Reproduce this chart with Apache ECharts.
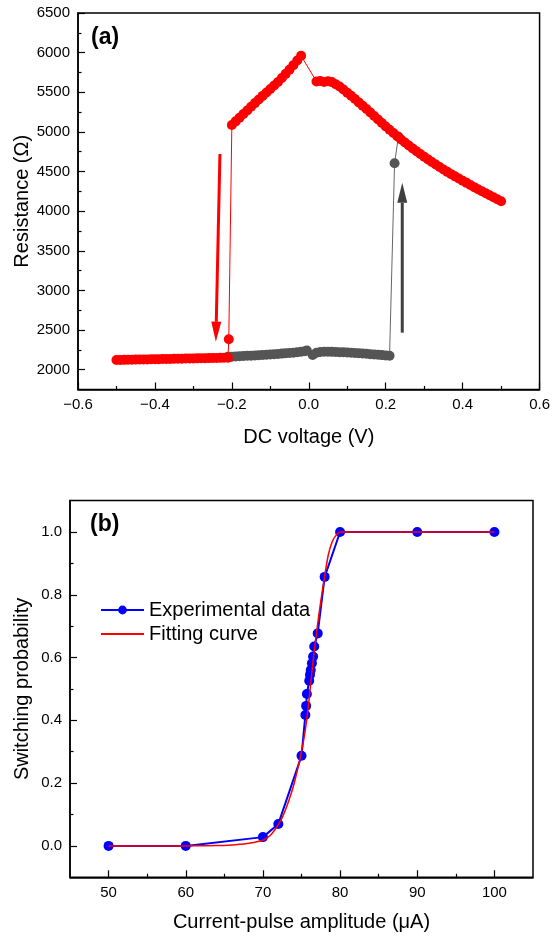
<!DOCTYPE html>
<html><head><meta charset="utf-8">
<script src="https://cdn.jsdelivr.net/npm/echarts@6/dist/echarts.min.js"></script>
<style>html,body{margin:0;padding:0;background:#fff}#c{width:553px;height:939px}</style>
</head><body><div id="c"></div>
<script>
// ---------- Panel (a): resistance vs DC voltage ----------
const redV = [0.50,0.49,0.48,0.47,0.46,0.45,0.44,0.43,0.42,0.41,0.40,0.39,0.38,0.37,0.36,0.35,0.34,0.33,0.32,0.31,
  0.30,0.29,0.28,0.27,0.26,0.25,0.24,0.23,0.22,0.21,0.20,0.19,0.18,0.17,0.16,0.15,0.14,0.13,0.12,0.11,
  0.10,0.09,0.08,0.07,0.06,0.05,0.04,0.03,0.02,
  -0.02,-0.03,-0.04,-0.05,-0.06,-0.07,-0.08,-0.09,-0.10,-0.11,-0.12,-0.13,-0.14,-0.15,-0.16,-0.17,-0.18,-0.19,-0.20,
  -0.208,
  -0.21,-0.22,-0.23,-0.24,-0.25,-0.26,-0.27,-0.28,-0.29,-0.30,-0.31,-0.32,-0.33,-0.34,-0.35,-0.36,-0.37,-0.38,-0.39,-0.40,
  -0.41,-0.42,-0.43,-0.44,-0.45,-0.46,-0.47,-0.48,-0.49,-0.50];
const redR = [4125,4150,4175,4200,4225,4251,4277,4303,4330,4357,4384,4411,4439,4467,4496,4526,4556,4588,4620,4653,
  4686,4720,4756,4792,4829,4866,4905,4945,4986,5027,5069,5112,5156,5200,5244,5288,5330,5372,5414,5455,
  5495,5535,5572,5602,5628,5638,5630,5642,5636,
  5960,5900,5842,5786,5732,5680,5630,5586,5542,5498,5454,5409,5363,5317,5271,5225,5179,5133,5087,
  2383,
  2151,2150,2149,2148,2147,2146,2145,2144,2143,2142,2141,2140,2139,2138,2137,2136,2135,2134,2133,2132,
  2131,2130,2129,2128,2127,2126,2125,2124,2123,2122];
const grayV = [-0.21,-0.20,-0.19,-0.18,-0.17,-0.16,-0.15,-0.14,-0.13,-0.12,-0.11,-0.10,-0.09,-0.08,-0.07,-0.06,-0.05,-0.04,-0.03,-0.02,-0.01,-0.005,
  0.01,0.02,0.03,0.04,0.05,0.06,0.07,0.08,0.09,0.10,0.11,0.12,0.13,0.14,0.15,0.16,0.17,0.18,0.19,0.20,0.21,
  0.223,0.233];
const grayR = [2162,2164,2167,2169,2172,2175,2177,2180,2183,2186,2189,2192,2196,2199,2203,2207,2211,2215,2220,2226,2234,2242,
  2186,2214,2224,2226,2226,2225,2223,2221,2219,2216,2213,2210,2207,2204,2200,2196,2192,2188,2184,2180,2175,
  4604,4940];
const arrowRed = [-0.231, 4721, -0.2416, 2353];
const arrowGray = [0.243, 2467, 0.243, 4359];
const aYTicks = [2000,2500,3000,3500,4000,4500,5000,5500,6000,6500];
const aYMinor = [2250,2750,3250,3750,4250,4750,5250,5750,6250];

// ---------- Panel (b): switching probability ----------
const expI = [50,60,70,72,75,75.5,75.6,75.7,76.0,76.1,76.2,76.35,76.5,76.65,77.1,78,80,90,100];
const expP = [0,0,0.028,0.07,0.287,0.417,0.446,0.484,0.526,0.545,0.56,0.582,0.603,0.635,0.677,0.857,1.0,1.0,1.0];
const fitI = [50,55,60,62,64,66,67,68,69,70,70.5,71,71.5,72,72.5,73,73.5,74,74.5,75,75.5,76,76.5,77,77.5,78,78.5,79,79.5,80,85,90,100];
const fitP = [0,0,0,0.0005,0.001,0.003,0.005,0.008,0.012,0.018,0.025,0.035,0.05,0.068,0.09,0.12,0.155,0.195,0.245,0.30,0.37,0.47,0.59,0.69,0.78,0.86,0.93,0.97,0.99,1.0,1.0,1.0,1.0];
const bXTicks = [50,60,70,80,90,100];
const bXMinor = [55,65,75,85,95];
const bYTicks = [0,0.2,0.4,0.6,0.8,1.0];
const bYMinor = [0.1,0.3,0.5,0.7,0.9];

const FF = '"Liberation Sans", Arial, Helvetica, sans-serif';
const BLACK = '#000';
const minus = v => String(v).replace('-', '\u2212');

function mainAxis(gi, min, max, opts) {
  return Object.assign({
    type: 'value', gridIndex: gi, min: min, max: max,
    axisLine: { show: true, onZero: false, lineStyle: { color: BLACK, width: 1.5 } },
    axisTick: { show: true, inside: true, length: 7, lineStyle: { color: BLACK, width: 1.2 } },
    axisLabel: { color: BLACK, fontSize: 15, fontFamily: FF, margin: 8 },
    splitLine: { show: false },
    nameLocation: 'middle',
    nameMoveOverlap: false,
    nameTextStyle: { color: BLACK, fontSize: 20, fontFamily: FF }
  }, opts);
}
function minorAxis(gi, min, max, vals, pos) {
  return {
    type: 'value', gridIndex: gi, min: min, max: max, position: pos,
    axisLine: { show: false, onZero: false },
    axisTick: { show: true, inside: true, length: 3.5, customValues: vals, lineStyle: { color: BLACK, width: 1.2 } },
    axisLabel: { show: false },
    splitLine: { show: false }
  };
}
function arrowSeries(data, color) {
  return {
    type: 'custom', xAxisIndex: 0, yAxisIndex: 0, data: [data], z: 5,
    encode: { x: [0, 2], y: [1, 3] },
    renderItem: function (params, api) {
      const a = api.coord([api.value(0), api.value(1)]);
      const b = api.coord([api.value(2), api.value(3)]);
      const dx = b[0] - a[0], dy = b[1] - a[1];
      const L = Math.hypot(dx, dy), ux = dx / L, uy = dy / L;
      const hl = 20, hw = 5;
      const bx = b[0] - ux * hl, by = b[1] - uy * hl;
      return { type: 'group', children: [
        { type: 'line', shape: { x1: a[0], y1: a[1], x2: bx, y2: by }, style: { stroke: color, lineWidth: 3 } },
        { type: 'polygon', shape: { points: [[b[0], b[1]], [bx - uy * hw, by + ux * hw], [bx + uy * hw, by - ux * hw]] }, style: { fill: color } }
      ]};
    }
  };
}

const chart = echarts.init(document.getElementById('c'), null, { renderer: 'canvas' });
chart.setOption({
  animation: false,
  backgroundColor: '#fff',
  title: [
    { text: '(a)', left: 91, top: 26, padding: 0, textStyle: { fontSize: 23, fontWeight: 'bold', fontFamily: FF, color: BLACK } },
    { text: '(b)', left: 90, top: 513, padding: 0, textStyle: { fontSize: 23, fontWeight: 'bold', fontFamily: FF, color: BLACK } }
  ],
  grid: [
    { left: 78, right: 13, top: 13, height: 376.5, show: true, borderColor: BLACK, borderWidth: 1.5, backgroundColor: 'transparent' },
    { left: 70, right: 20, top: 500.6, height: 376.7, show: true, borderColor: BLACK, borderWidth: 1.5, backgroundColor: 'transparent' }
  ],
  legend: {
    data: ['Experimental data', 'Fitting curve'],
    orient: 'vertical', left: 100, top: 600, padding: 0, itemWidth: 43, itemHeight: 11, itemGap: 4,
    textStyle: { fontSize: 20, fontFamily: FF, color: BLACK }
  },
  xAxis: [
    mainAxis(0, -0.6, 0.6, {
      interval: 0.2, name: 'DC voltage (V)', nameGap: 38,
      minorTick: { show: true, splitNumber: 2, length: 3.5, lineStyle: { color: BLACK, width: 1.2 } },
      axisLabel: { color: BLACK, fontSize: 15, fontFamily: FF, margin: 8, formatter: v => minus(v.toFixed(1)) }
    }),
    mainAxis(1, 45, 105, {
      name: 'Current-pulse amplitude (\u03bcA)', nameGap: 35,
      axisTick: { show: true, inside: true, length: 7, customValues: bXTicks, lineStyle: { color: BLACK, width: 1.2 } },
      axisLabel: { color: BLACK, fontSize: 15, fontFamily: FF, margin: 8, customValues: bXTicks, formatter: v => String(v) }
    }),
    minorAxis(1, 45, 105, bXMinor, 'bottom')
  ],
  yAxis: [
    mainAxis(0, 1750, 6500, {
      name: 'Resistance (\u03a9)', nameGap: 46,
      axisTick: { show: true, inside: true, length: 7, customValues: aYTicks, lineStyle: { color: BLACK, width: 1.2 } },
      axisLabel: { color: BLACK, fontSize: 15, fontFamily: FF, margin: 8, customValues: aYTicks, formatter: v => String(v) }
    }),
    minorAxis(0, 1750, 6500, aYMinor, 'left'),
    mainAxis(1, -0.1, 1.1, {
      name: 'Switching probability', nameGap: 38,
      axisTick: { show: true, inside: true, length: 7, customValues: bYTicks, lineStyle: { color: BLACK, width: 1.2 } },
      axisLabel: { color: BLACK, fontSize: 15, fontFamily: FF, margin: 8, customValues: bYTicks, formatter: v => v.toFixed(1) }
    }),
    minorAxis(1, -0.1, 1.1, bYMinor, 'left')
  ],
  series: [
    {
      name: 'LRS', type: 'line', xAxisIndex: 0, yAxisIndex: 0,
      data: grayV.map((v, i) => [v, grayR[i]]),
      symbol: 'circle', symbolSize: 10, showSymbol: true,
      itemStyle: { color: '#555555' }, lineStyle: { color: '#666666', width: 1 }, z: 2
    },
    {
      name: 'HRS', type: 'line', xAxisIndex: 0, yAxisIndex: 0,
      data: redV.map((v, i) => [v, redR[i]]),
      symbol: 'circle', symbolSize: 10, showSymbol: true,
      itemStyle: { color: '#FF0000' }, lineStyle: { color: '#FF0000', width: 1 }, z: 3
    },
    arrowSeries(arrowRed, '#FF0000'),
    arrowSeries(arrowGray, '#404040'),
    {
      name: 'Experimental data', type: 'line', xAxisIndex: 1, yAxisIndex: 2,
      data: expI.map((v, i) => [v, expP[i]]),
      symbol: 'circle', symbolSize: 10,
      itemStyle: { color: '#0000FF' }, lineStyle: { color: '#0000FF', width: 2 }, z: 2
    },
    {
      name: 'Fitting curve', type: 'line', xAxisIndex: 1, yAxisIndex: 2,
      data: fitI.map((v, i) => [v, fitP[i]]),
      symbol: 'none', smooth: 0.3,
      itemStyle: { color: '#FF0000', opacity: 0 }, lineStyle: { color: '#FF0000', width: 1.5, opacity: 1 }, z: 3
    }
  ]
});
</script></body></html>
